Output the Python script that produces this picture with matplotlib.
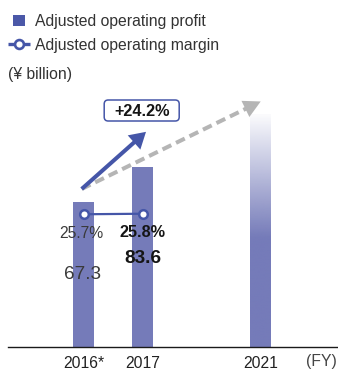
import numpy as np
import matplotlib
matplotlib.use("Agg")
import matplotlib.pyplot as plt
from matplotlib.colors import to_rgb
from matplotlib.transforms import Affine2D, blended_transform_factory
from matplotlib.patches import Rectangle, Polygon, FancyBboxPatch
from matplotlib.lines import Line2D

plt.rcParams['font.family'] = ['Liberation Sans', 'DejaVu Sans']
plt.rcParams['lines.scale_dashes'] = False

# ---- data -------------------------------------------------------------
years = ["2016*", "2017", "2021"]
year_pos = [0, 1, 3]
profit = [67.3, 83.6, 108.0]      # ¥ billion; 2021 is the target bar
margin = [25.7, 25.8]             # % for 2016 and 2017

# ---- styling ----------------------------------------------------------
BAR = "#757bb9"
DARK_BLUE = "#4556a8"
LEG_SQ = "#4b58a8"
GREY = "#b5b5b5"
TXT = "#333333"

W, H = 338, 370
fig = plt.figure(figsize=(W / 100, H / 100), dpi=100)
ax = fig.add_axes([8 / W, 23 / H, 330 / W, 347 / H])

# image-style pixel transform (origin top-left, y down)
img = Affine2D().scale(1, -1).translate(0, H)

bw = 0.347
ax.bar(year_pos[:2], profit[:2], width=bw, color=BAR, zorder=2)

# 2021 target bar: fades out towards its top
n = 300
v21 = profit[2]
solid_to = 51.0
ys = np.linspace(0, v21, n)
alpha = np.clip((v21 - ys) / (v21 - solid_to), 0, 1) * 0.97 + 0.03
alpha[ys <= solid_to] = 1.0
rgba = np.zeros((n, 1, 4))
rgba[..., :3] = to_rgb(BAR)
rgba[:, 0, 3] = alpha
ax.imshow(rgba, extent=(year_pos[2] - bw / 2, year_pos[2] + bw / 2, 0, v21),
          origin="lower", aspect="auto", interpolation="bilinear", zorder=2)

ax.set_xlim(-75.5 / 59, 254.5 / 59)
ax.set_ylim(0, 347 / 2.155)
for s in ("left", "right", "top"):
    ax.spines[s].set_visible(False)
ax.spines["bottom"].set_color("#1a1a1a")
ax.spines["bottom"].set_linewidth(1.0)
ax.set_yticks([])
ax.set_xticks(year_pos, years)
ax.tick_params(axis="x", length=0, pad=6.3, labelsize=11.3, labelcolor="#222222")

# ---- margin line on its own scale -------------------------------------
ax2 = ax.twinx()
ax2.set_ylim(0, 25.75 * 347 / 133)
ax2.plot(year_pos[:2], margin, color=DARK_BLUE, lw=1.6, marker="o", ms=6.2,
         mfc="white", mec=DARK_BLUE, mew=1.8, zorder=5, solid_capstyle="butt")
ax2.axis("off")

# ---- labels -----------------------------------------------------------
bx = blended_transform_factory(ax.transData, img)
ax.text(year_pos[0] - 0.03, 238.3, f"{margin[0]:.1f}%", transform=bx, ha="center",
        va="baseline", fontsize=11.3, color="#3a3a3a")
ax.text(year_pos[1], 237.3, f"{margin[1]:.1f}%", transform=bx, ha="center",
        va="baseline", fontsize=11.7, fontweight="bold", color="#151515")
ax.text(year_pos[0] - 0.02, 279.3, f"{profit[0]:.1f}", transform=bx, ha="center",
        va="baseline", fontsize=13.7, color="#3a3a3a")
ax.text(year_pos[1], 263.3, f"{profit[1]:.1f}", transform=bx, ha="center",
        va="baseline", fontsize=13.7, fontweight="bold", color="#151515")


def to_img(x, y):
    d = ax.transData.transform((x, y))
    return np.array([d[0], H - d[1]])


def arrow(p0, p1, color, lw, head_len, head_half, dashes=None):
    p0 = np.asarray(p0, float)
    p1 = np.asarray(p1, float)
    u = (p1 - p0) / np.hypot(*(p1 - p0))
    nrm = np.array([-u[1], u[0]])
    base = p1 - head_len * u
    ln = Line2D([p0[0], base[0] + u[0]], [p0[1], base[1] + u[1]], transform=img,
                color=color, lw=lw, solid_capstyle="butt", dash_capstyle="butt",
                zorder=6)
    if dashes:
        ln.set_dashes(dashes)
    fig.add_artist(ln)
    fig.add_artist(Polygon([p1, base + head_half * nrm, base - head_half * nrm],
                           closed=True, transform=img, facecolor=color,
                           edgecolor="none", zorder=6))


start = to_img(year_pos[0], profit[0]) + np.array([-1.8, -13.0])
grey_tip = to_img(year_pos[2], profit[2]) + np.array([0.2, -12.8])
blue_tip = to_img(year_pos[1], profit[1]) + np.array([3.5, -35.0])
arrow(start, grey_tip, GREY, 2.9, 17, 9, dashes=(7.0, 3.8))
arrow(start, blue_tip, DARK_BLUE, 2.9, 16, 9.5)

# growth callout
growth = (profit[1] / profit[0] - 1) * 100
cx, cy = 141.7, 110.5
fig.add_artist(FancyBboxPatch((cx - 37.5, cy - 10.5), 75, 21,
                              boxstyle="round,pad=0,rounding_size=4",
                              transform=img, facecolor="white",
                              edgecolor=DARK_BLUE, lw=1.1, zorder=7))
fig.text(cx, 115.7, f"+{growth:.1f}%", transform=img, ha="center", va="baseline",
         fontsize=11.7, fontweight="bold", color="#151515", zorder=8)

# ---- legend & unit ----------------------------------------------------
fig.add_artist(Rectangle((13, 14.5), 12, 11.5, transform=img, facecolor=LEG_SQ,
                         edgecolor="none"))
fig.add_artist(Line2D([8, 30], [44.3, 44.3], transform=img, color=DARK_BLUE, lw=2.4,
                      solid_capstyle="butt"))
fig.add_artist(Line2D([19], [44.3], transform=img, marker="o", ms=6.4, mfc="white",
                      mec=DARK_BLUE, mew=1.9, lw=0))
fig.text(35, 25.8, "Adjusted operating profit", transform=img, ha="left",
         va="baseline", fontsize=11.3, color=TXT)
fig.text(35, 49.8, "Adjusted operating margin", transform=img, ha="left",
         va="baseline", fontsize=11.3, color=TXT)
fig.text(8, 79.5, "(¥ billion)", transform=img, ha="left", va="baseline",
         fontsize=11.3, color=TXT)
fig.text(321.7, 366.3, "(FY)", transform=img, ha="center", va="baseline",
         fontsize=11.3, color="#444444")

fig.savefig("out.png", dpi=100)
